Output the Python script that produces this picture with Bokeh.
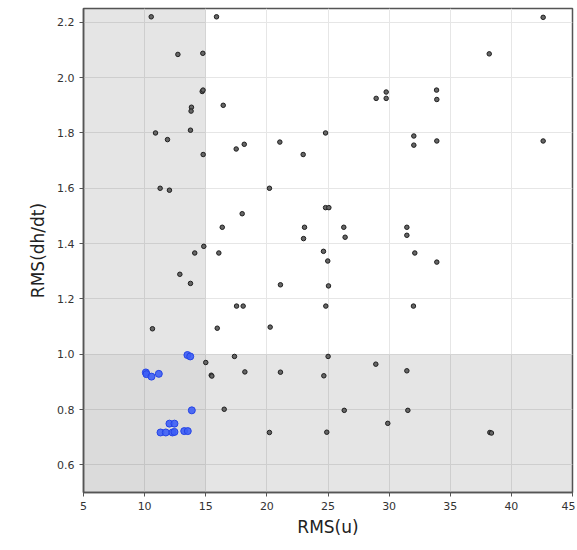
from bokeh.plotting import figure
from bokeh.models import BoxAnnotation, FixedTicker, PrintfTickFormatter, Range1d
from bokeh.embed import file_html
from bokeh.resources import INLINE

# points
other_x = [10.54, 15.88, 12.72, 14.76, 14.71, 14.78, 13.83, 13.80, 16.43, 10.89, 11.87, 13.75,
           14.79, 17.49, 18.15, 21.06, 22.97, 24.80, 11.27, 12.03, 20.21, 24.80, 25.07, 17.98,
           16.35, 23.08, 23.00, 14.84, 42.60, 38.19, 28.94, 29.76, 29.76, 33.88, 33.90, 32.02,
           32.02, 33.90, 42.60, 26.29, 26.40, 31.45, 31.45, 14.10, 16.07, 24.63, 24.98, 12.88,
           13.75, 21.11, 25.04, 17.52, 18.06, 24.82, 10.64, 15.94, 20.27, 15.00, 17.35, 25.01,
           15.45, 15.50, 18.20, 21.11, 24.66, 16.51, 20.21, 24.90, 32.10, 33.90, 31.99, 28.91,
           31.45, 26.33, 31.53, 29.89, 38.24, 38.37]
other_y = [2.220, 2.220, 2.084, 2.088, 1.950, 1.955, 1.893, 1.879, 1.900, 1.800, 1.776, 1.810,
           1.722, 1.742, 1.759, 1.767, 1.722, 1.800, 1.600, 1.593, 1.600, 1.530, 1.530, 1.508,
           1.459, 1.459, 1.418, 1.390, 2.218, 2.086, 1.925, 1.948, 1.925, 1.955, 1.921, 1.789,
           1.756, 1.771, 1.771, 1.459, 1.423, 1.459, 1.430, 1.366, 1.366, 1.372, 1.337, 1.289,
           1.256, 1.251, 1.247, 1.174, 1.174, 1.174, 1.092, 1.094, 1.098, 0.970, 0.992, 0.992,
           0.924, 0.921, 0.936, 0.935, 0.922, 0.801, 0.717, 0.718, 1.366, 1.333, 1.174, 0.964,
           0.940, 0.797, 0.797, 0.750, 0.717, 0.715]

sel_x = [13.50, 13.73, 10.10, 10.15, 10.56, 11.16, 13.86, 12.03, 12.44, 11.30, 11.73, 12.28,
         12.44, 13.24, 13.53]
sel_y = [0.997, 0.992, 0.934, 0.928, 0.919, 0.929, 0.797, 0.749, 0.749, 0.717, 0.717, 0.717,
         0.719, 0.722, 0.722]

x_limit = 15
y_limit = 1.0
x_ticks = [5, 10, 15, 20, 25, 30, 35, 40, 45]
y_ticks = [0.6, 0.8, 1.0, 1.2, 1.4, 1.6, 1.8, 2.0, 2.2]

p = figure(frame_width=489, frame_height=484, output_backend="svg", toolbar_location=None,
           x_range=Range1d(5, 45), y_range=Range1d(0.5, 2.25),
           min_border_left=83, min_border_top=8, min_border_right=3, min_border_bottom=44)

# shaded zones: x below the limit, y below the limit, and where both hold
p.add_layout(BoxAnnotation(right=x_limit, bottom=y_limit, fill_color="black", fill_alpha=0.1,
                           line_color=None, level="underlay"))
p.add_layout(BoxAnnotation(left=x_limit, top=y_limit, fill_color="black", fill_alpha=0.1,
                           line_color=None, level="underlay"))
p.add_layout(BoxAnnotation(right=x_limit, top=y_limit, fill_color="black", fill_alpha=0.14,
                           line_color=None, level="underlay"))

p.scatter(other_x, other_y, size=4.5, fill_color="#666666", line_color="#1e1e1e", line_width=1)
p.scatter(sel_x, sel_y, size=7, fill_color="#3d5ef5", line_color="#2443e6", line_width=1, fill_alpha=0.9)

p.xaxis.ticker = FixedTicker(ticks=x_ticks)
p.yaxis.ticker = FixedTicker(ticks=y_ticks)
p.yaxis.formatter = PrintfTickFormatter(format="%.1f")
p.xaxis.axis_label = "RMS(u)"
p.yaxis.axis_label = "RMS(dh/dt)"

for ax in [p.xaxis, p.yaxis]:
    ax.axis_label_text_font = "DejaVu Sans"
    ax.axis_label_text_font_size = "17px"
    ax.axis_label_text_font_style = "normal"
    ax.axis_label_text_color = "#222222"
    ax.major_label_text_font = "DejaVu Sans"
    ax.major_label_text_font_size = "11px"
    ax.major_label_text_color = "#333333"
    ax.axis_line_color = "#555555"
    ax.axis_line_width = 1.5
    ax.major_tick_line_color = "#555555"
    ax.major_tick_in = 0
    ax.major_tick_out = 4
    ax.minor_tick_line_color = None

p.xaxis.axis_label_standoff = 4
p.yaxis.axis_label_standoff = 6

p.grid.grid_line_color = "#e6e6e6"
p.grid.grid_line_width = 1
p.outline_line_color = "#555555"
p.outline_line_width = 1.5
p.background_fill_color = "white"

open("out.html", "w").write(file_html(p, INLINE))
